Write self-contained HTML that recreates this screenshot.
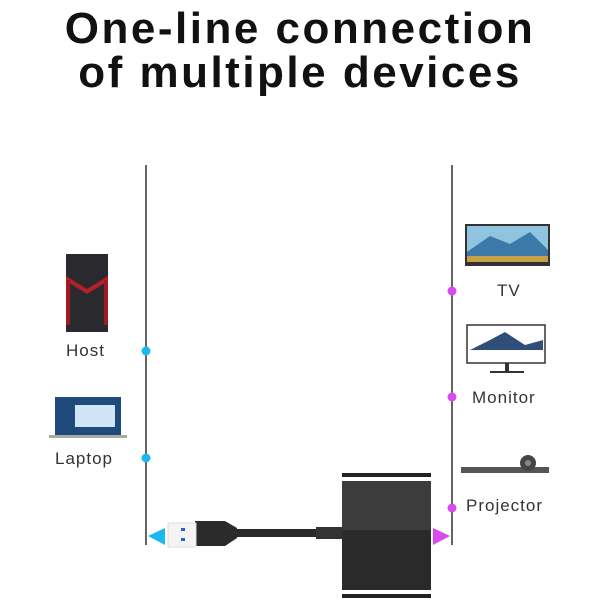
<!DOCTYPE html>
<html><head><style>
body{margin:0;width:600px;height:600px;background:#fff;position:relative;overflow:hidden;font-family:"Liberation Sans",sans-serif}
.t{position:absolute;left:0;width:600px;text-align:center;font-weight:bold;font-size:44px;color:#111;letter-spacing:2.5px}
.l{position:absolute;font-size:17px;color:#333;letter-spacing:1px}
</style></head><body>
<div class="t" style="top:4px">One-line connection</div>
<div class="t" style="top:48px">of multiple devices</div>
<svg width="600" height="600" style="position:absolute;left:0;top:0">
<line x1="146" y1="165" x2="146" y2="545" stroke="#111" stroke-width="1.3"/>
<line x1="452" y1="165" x2="452" y2="545" stroke="#111" stroke-width="1.3"/>
<circle cx="146" cy="351" r="4.5" fill="#1ab8ee"/>
<circle cx="146" cy="458" r="4.5" fill="#1ab8ee"/>
<circle cx="452" cy="291" r="4.5" fill="#d94af0"/>
<circle cx="452" cy="397" r="4.5" fill="#d94af0"/>
<circle cx="452" cy="508" r="4.5" fill="#d94af0"/>
<polygon points="148,536 165,528 165,545" fill="#1ab8ee"/>
<polygon points="450,536 433,528 433,545" fill="#d94af0"/>
<rect x="66" y="254" width="42" height="78" fill="#2a2a2e"/>
<polygon points="66,276 87,289 108,276 108,281 87,294 66,281" fill="#b3202a"/>
<rect x="66" y="280" width="4" height="45" fill="#a01a22"/>
<rect x="104" y="280" width="4" height="45" fill="#a01a22"/>
<rect x="55" y="397" width="66" height="38" fill="#1f4a7a"/>
<rect x="75" y="405" width="40" height="22" fill="#cfe4f5"/>
<rect x="49" y="435" width="78" height="3" fill="#aaa"/>
<rect x="465" y="224" width="85" height="42" fill="#333"/>
<rect x="467" y="226" width="81" height="36" fill="#8fc3e0"/>
<polygon points="467,252 490,236 510,244 530,232 548,250 548,262 467,262" fill="#3a79a8"/>
<rect x="467" y="256" width="81" height="6" fill="#c4a24a"/>
<rect x="467" y="325" width="78" height="38" fill="#fff" stroke="#333" stroke-width="1.5"/>
<polygon points="470,350 490,340 505,332 525,345 543,340 543,350" fill="#2f4f7a"/>
<rect x="505" y="363" width="4" height="8" fill="#333"/>
<rect x="490" y="371" width="34" height="2" fill="#333"/>
<rect x="461" y="467" width="88" height="6" fill="#555"/>
<circle cx="528" cy="463" r="8" fill="#444"/>
<circle cx="528" cy="463" r="3" fill="#888"/>
<rect x="342" y="473" width="89" height="4" fill="#222"/>
<rect x="342" y="481" width="89" height="109" fill="#3c3c3c"/>
<rect x="342" y="530" width="89" height="60" fill="#2a2a2a"/>
<rect x="342" y="594" width="89" height="4" fill="#222"/>
<rect x="237" y="529" width="80" height="8" fill="#2a2a2a"/>
<rect x="316" y="527" width="27" height="12" fill="#333"/>
<polygon points="195,521 225,521 237,528 237,538 225,546 195,546" fill="#2b2b2b"/>
<rect x="168" y="523" width="28" height="24" fill="#f4f4f4" stroke="#ddd"/>
<rect x="181" y="528" width="4" height="3" fill="#2b5fc8"/>
<rect x="181" y="538" width="4" height="3" fill="#2b5fc8"/>
</svg>
<div class="l" style="left:66px;top:341px">Host</div>
<div class="l" style="left:55px;top:449px">Laptop</div>
<div class="l" style="left:497px;top:281px">TV</div>
<div class="l" style="left:472px;top:388px">Monitor</div>
<div class="l" style="left:466px;top:496px">Projector</div>
</body></html>
